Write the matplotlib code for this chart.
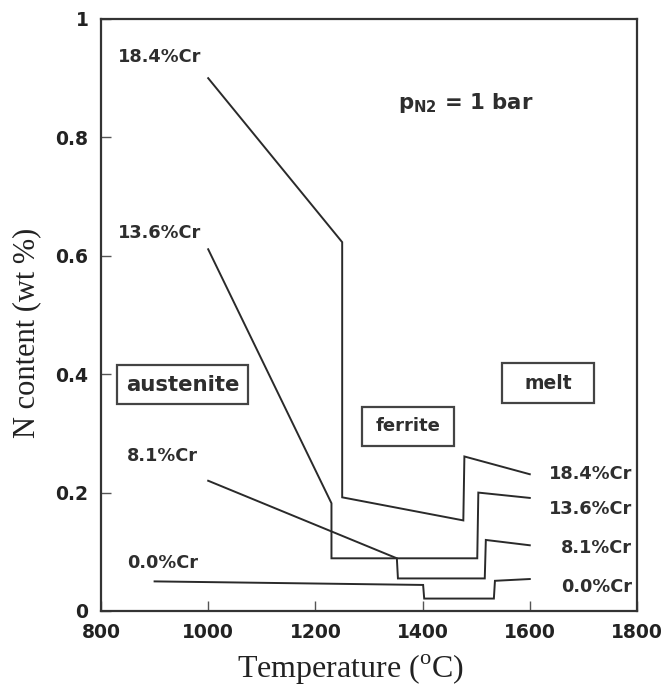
import matplotlib
matplotlib.use("Agg")
import matplotlib.pyplot as plt
from matplotlib.patches import Rectangle

# ---- data ----
t_184 = [1000, 1250, 1250, 1476, 1478, 1600]
n_184 = [0.900, 0.623, 0.192, 0.153, 0.261, 0.231]

t_136 = [1000, 1230, 1230, 1502, 1504, 1600]
n_136 = [0.611, 0.182, 0.089, 0.089, 0.200, 0.191]

t_81 = [1000, 1352, 1354, 1516, 1518, 1600]
n_81 = [0.220, 0.089, 0.055, 0.055, 0.120, 0.111]

t_00 = [900, 1401, 1403, 1533, 1535, 1600]
n_00 = [0.050, 0.044, 0.021, 0.021, 0.051, 0.054]

series_labels = ["18.4%Cr", "13.6%Cr", "8.1%Cr", "0.0%Cr"]
x_ticks = [800, 1000, 1200, 1400, 1600, 1800]
y_ticks = [0, 0.2, 0.4, 0.6, 0.8, 1]
y_tick_labels = ["0", "0.2", "0.4", "0.6", "0.8", "1"]
phase_labels = ["austenite", "ferrite", "melt"]

# ---- figure ----
fig = plt.figure(figsize=(6.67, 6.90), dpi=100)
ax = fig.add_axes([0.1514, 0.1145, 0.8036, 0.858])

lc = "#2a2a2a"
for t, n in [(t_184, n_184), (t_136, n_136), (t_81, n_81), (t_00, n_00)]:
    ax.plot(t, n, color=lc, lw=1.4, solid_joinstyle="miter")

ax.set_xlim(800, 1800)
ax.set_ylim(0, 1)
ax.set_xticks(x_ticks)
ax.set_yticks(y_ticks)
ax.set_yticklabels(y_tick_labels)
ax.tick_params(direction="in", length=7, width=1.0, color="#555555",
               labelsize=13.5, pad=9)
for lab in ax.get_xticklabels() + ax.get_yticklabels():
    lab.set_fontweight("bold")
    lab.set_color("#222222")
for s in ax.spines.values():
    s.set_linewidth(1.6)
    s.set_color("#333333")

serif = ["Liberation Serif", "DejaVu Serif"]
ax.set_xlabel("Temperature ($^{\\mathregular{o}}$C)", fontfamily=serif,
              fontsize=23, color="#222222")
ax.xaxis.set_label_coords(0.465, -0.071)
ax.set_ylabel("N content (wt %)", fontfamily=serif, fontsize=22,
              color="#222222")
ax.yaxis.set_label_coords(-0.112, 0.47)

# series labels (left)
lab_fs = 12.8
left_pos = [(832, 0.936), (832, 0.638), (848, 0.261), (848, 0.0805)]
for lbl, (x, y) in zip(series_labels, left_pos):
    ax.text(x, y, lbl, fontsize=lab_fs, fontweight="bold", ha="left",
            va="center", color="#2e2e2e")
# series labels (right)
right_pos = [0.231, 0.173, 0.106, 0.041]
for lbl, y in zip(series_labels, right_pos):
    ax.text(1791, y, lbl, fontsize=lab_fs, fontweight="bold", ha="right",
            va="center", color="#2e2e2e")

# phase boxes
boxes = [(830, 0.350, 245, 0.065), (1287, 0.279, 172, 0.066), (1549, 0.351, 170, 0.068)]
box_fs = [15.3, 13, 13.5]
for lbl, (x0, y0, w, h), fs in zip(phase_labels, boxes, box_fs):
    ax.add_patch(Rectangle((x0, y0), w, h, fill=False, lw=1.6, ec="#444444"))
    ax.text(x0 + w / 2, y0 + h / 2, lbl, fontsize=fs, fontweight="bold",
            ha="center", va="center", color="#2e2e2e")

ax.text(1355, 0.858, "p$_{\\mathregular{N2}}$ = 1 bar", fontsize=15.3,
        fontweight="bold", ha="left", va="center", color="#2e2e2e")

fig.savefig("out.png", dpi=100)
